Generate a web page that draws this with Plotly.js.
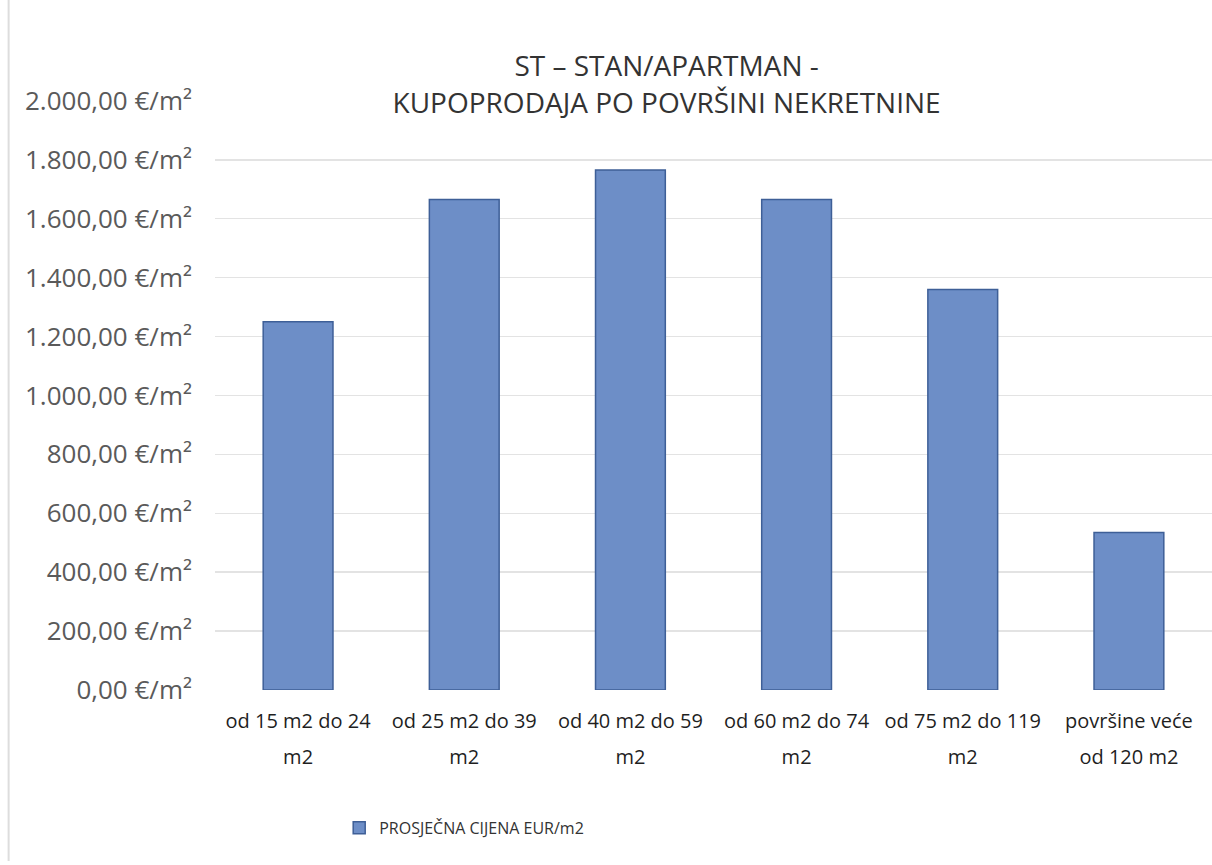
<!DOCTYPE html>
<html>
<head>
<meta charset="utf-8">
<script src="https://cdn.plot.ly/plotly-3.0.1.min.js"></script>
<style>html,body{margin:0;padding:0;background:#fff;}#chart{width:1212px;height:865px;}</style>
</head>
<body>
<div id="chart"></div>
<script>
var categories = ["c1", "c2", "c3", "c4", "c5", "c6"];
var labelLine1 = ["od 15 m2 do 24", "od 25 m2 do 39", "od 40 m2 do 59", "od 60 m2 do 74", "od 75 m2 do 119", "površine veće"];
var labelLine2 = ["m2", "m2", "m2", "m2", "m2", "od 120 m2"];
var values = [1250, 1665, 1765, 1665, 1360, 535];
var seriesName = "PROSJEČNA CIJENA EUR/m2";
var yTickVals = [0, 200, 400, 600, 800, 1000, 1200, 1400, 1600, 1800, 2000];
var yTickText = ["0,00 €/m²", "200,00 €/m²", "400,00 €/m²", "600,00 €/m²", "800,00 €/m²", "1.000,00 €/m²", "1.200,00 €/m²", "1.400,00 €/m²", "1.600,00 €/m²", "1.800,00 €/m²", "2.000,00 €/m²"];

var font = "Open Sans, Noto Sans, sans-serif";
var trace = {
  type: "bar",
  x: categories,
  y: values,
  name: seriesName,
  marker: {color: "#6d8ec7", line: {color: "#3e5f97", width: 1.5}},
  hoverinfo: "skip"
};
// invisible helper trace so the second-line label axis is drawn
var helper = {
  type: "scatter", mode: "none", x: categories, y: values,
  xaxis: "x2", yaxis: "y", showlegend: false, hoverinfo: "skip"
};
var layout = {
  width: 1212, height: 865,
  paper_bgcolor: "#fff", plot_bgcolor: "#fff",
  margin: {l: 215, r: 0, t: 100, b: 175},
  bargap: 0.58,
  title: {
    text: "ST – STAN/APARTMAN -<br>KUPOPRODAJA PO POVRŠINI NEKRETNINE",
    font: {family: font, size: 28, color: "#333"},
    xref: "container", x: 0.55, xanchor: "center",
    yref: "container", y: 0.912, yanchor: "middle"
  },
  xaxis: {
    type: "category", categoryarray: categories,
    tickmode: "array", tickvals: categories, ticktext: labelLine1,
    tickfont: {family: font, size: 20, color: "#1f1f1f"},
    showgrid: false, zeroline: false, showline: false, ticks: "",
    ticklabelstandoff: 17, fixedrange: true
  },
  xaxis2: {
    type: "category", categoryarray: categories, overlaying: "x", matches: "x",
    anchor: "y", side: "bottom",
    tickmode: "array", tickvals: categories, ticktext: labelLine2,
    tickfont: {family: font, size: 20, color: "#1f1f1f"},
    showgrid: false, zeroline: false, showline: false, ticks: "",
    ticklabelstandoff: 53, fixedrange: true
  },
  yaxis: {
    range: [0, 2003], tickmode: "array", tickvals: yTickVals, ticktext: yTickText,
    tickfont: {family: font, size: 26, color: "#5a5a5a"},
    gridcolor: "#e3e3e3", gridwidth: 1.5, zeroline: false, showline: false,
    ticks: "", ticklabelstandoff: 22, fixedrange: true
  },
  showlegend: true,
  legend: {
    orientation: "h", x: 0.383, xref: "container", xanchor: "center",
    y: 0.043, yref: "container", yanchor: "middle",
    font: {family: font, size: 16, color: "#333"},
    itemwidth: 30
  },
  shapes: [
    {type: "line", xref: "paper", yref: "paper", x0: -0.207, x1: -0.207, y0: -0.29, y1: 1.17, line: {color: "#ddd", width: 2}}
  ]
};
Plotly.newPlot("chart", [trace, helper], layout, {displayModeBar: false, staticPlot: true});
</script>
</body>
</html>
